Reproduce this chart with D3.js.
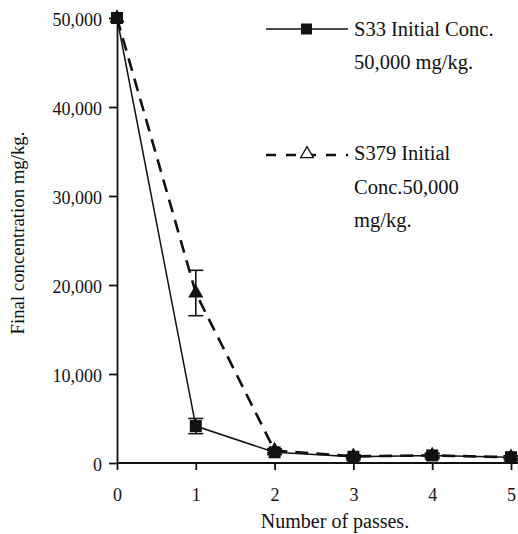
<!DOCTYPE html>
<html>
<head>
<meta charset="utf-8">
<script src="https://cdn.jsdelivr.net/npm/d3@7"></script>
<style>
  body { margin: 0; background: #fff; }
  svg text { font-family: "Liberation Serif", "Times New Roman", serif; }
</style>
</head>
<body>
<div class="container"></div>
<script>
// data
const passes = [0, 1, 2, 3, 4, 5];
const s33Values = [50000, 4150, 1200, 700, 850, 650];
const s33Errors = [0, 850, 250, 200, 250, 150];
const s379Values = [50000, 19100, 1400, 750, 850, 650];
const s379Errors = [0, 2550, 200, 150, 200, 150];
const yTicks = [0, 10000, 20000, 30000, 40000, 50000];

const W = 518, H = 534;
const FONT = "Liberation Serif, Times New Roman, serif";

const svg = d3.select("div.container").append("svg")
    .attr("width", W)
    .attr("height", H)
    .style("display", "block");

// scales
const x = d3.scaleLinear().domain([0, 5]).range([117, 511]);
const y = d3.scaleLinear().domain([0, 50000]).range([463, 18]);

// y axis
const yAxis = svg.append("g")
    .attr("transform", `translate(${x(0)},0)`)
    .call(d3.axisLeft(y).tickValues(yTicks).tickFormat(d3.format(",")).tickSize(8).tickSizeOuter(0).tickPadding(7));
yAxis.attr("font-family", FONT).attr("font-size", 18);
yAxis.selectAll("text").attr("fill", "#111").attr("dy", "0.42em");
yAxis.selectAll("line, path").attr("stroke", "#111").attr("stroke-width", 1.8);

// x axis
const xAxis = svg.append("g")
    .attr("transform", `translate(0,${y(0)})`)
    .call(d3.axisBottom(x).tickValues(passes).tickFormat(d3.format("d")).tickSize(7).tickSizeOuter(0).tickPadding(18));
xAxis.attr("font-family", FONT).attr("font-size", 18);
xAxis.select(".domain").remove();
xAxis.append("line")
    .attr("x1", x(0)).attr("x2", W)
    .attr("stroke", "#111").attr("stroke-width", 1.8);
xAxis.selectAll("text").attr("fill", "#111");
xAxis.selectAll(".tick line").attr("stroke", "#111").attr("stroke-width", 1.8);

// axis titles
svg.append("text")
    .attr("transform", `translate(24,233) rotate(-90)`)
    .attr("text-anchor", "middle")
    .attr("font-size", 18.8)
    .attr("fill", "#111")
    .text("Final concentration mg/kg.");

svg.append("text")
    .attr("x", 335)
    .attr("y", 528)
    .attr("text-anchor", "middle")
    .attr("font-size", 20)
    .attr("fill", "#111")
    .text("Number of passes.");

const line = d3.line().x((d, i) => x(passes[i])).y(d => y(d));

// draws error bars for one series
function errorBars(values, errors) {
    const g = svg.append("g").attr("stroke", "#111").attr("stroke-width", 1.6);
    passes.forEach((p, i) => {
        if (!errors[i]) return;
        const lo = y(values[i] - errors[i]), hi = y(values[i] + errors[i]);
        g.append("line").attr("x1", x(p)).attr("x2", x(p)).attr("y1", lo).attr("y2", hi);
        g.append("line").attr("x1", x(p) - 7.5).attr("x2", x(p) + 7.5).attr("y1", lo).attr("y2", lo);
        g.append("line").attr("x1", x(p) - 7.5).attr("x2", x(p) + 7.5).attr("y1", hi).attr("y2", hi);
    });
}

// S379 (dashed, triangles) drawn first
errorBars(s379Values, s379Errors);
svg.append("path")
    .datum(s379Values)
    .attr("d", line)
    .attr("fill", "none")
    .attr("stroke", "#111")
    .attr("stroke-width", 2.6)
    .attr("stroke-dasharray", "13,8");
svg.append("g").selectAll("path")
    .data(s379Values)
    .enter()
    .append("path")
    .attr("d", d3.symbol().type(d3.symbolTriangle).size(100))
    .attr("transform", (d, i) => `translate(${x(passes[i])},${y(d)})`)
    .attr("fill", "#111");

// S33 (solid, squares)
errorBars(s33Values, s33Errors);
svg.append("path")
    .datum(s33Values)
    .attr("d", line)
    .attr("fill", "none")
    .attr("stroke", "#111")
    .attr("stroke-width", 1.5);
svg.append("g").selectAll("rect")
    .data(s33Values)
    .enter()
    .append("rect")
    .attr("x", (d, i) => x(passes[i]) - 6)
    .attr("y", d => y(d) - 6)
    .attr("width", 12)
    .attr("height", 12)
    .attr("fill", "#111");

// legend
const legend = svg.append("g").attr("fill", "#111").attr("font-size", 20.5);

legend.append("line")
    .attr("x1", 266).attr("x2", 348).attr("y1", 29).attr("y2", 29)
    .attr("stroke", "#111").attr("stroke-width", 1.5);
legend.append("rect")
    .attr("x", 301).attr("y", 23.5).attr("width", 11).attr("height", 11)
    .attr("fill", "#111");
legend.append("text").attr("x", 354).attr("y", 36).text("S33 Initial Conc.");
legend.append("text").attr("x", 354).attr("y", 69).text("50,000 mg/kg.");

legend.append("line")
    .attr("x1", 266).attr("x2", 348).attr("y1", 155).attr("y2", 155)
    .attr("stroke", "#111").attr("stroke-width", 2.6)
    .attr("stroke-dasharray", "10,10");
legend.append("path")
    .attr("d", d3.symbol().type(d3.symbolTriangle).size(70))
    .attr("transform", "translate(307,154)")
    .attr("fill", "#fff")
    .attr("stroke", "#111")
    .attr("stroke-width", 1.3);
legend.append("text").attr("x", 354).attr("y", 160).text("S379 Initial");
legend.append("text").attr("x", 354).attr("y", 194).text("Conc.50,000");
legend.append("text").attr("x", 354).attr("y", 227).text("mg/kg.");
</script>
</body>
</html>
